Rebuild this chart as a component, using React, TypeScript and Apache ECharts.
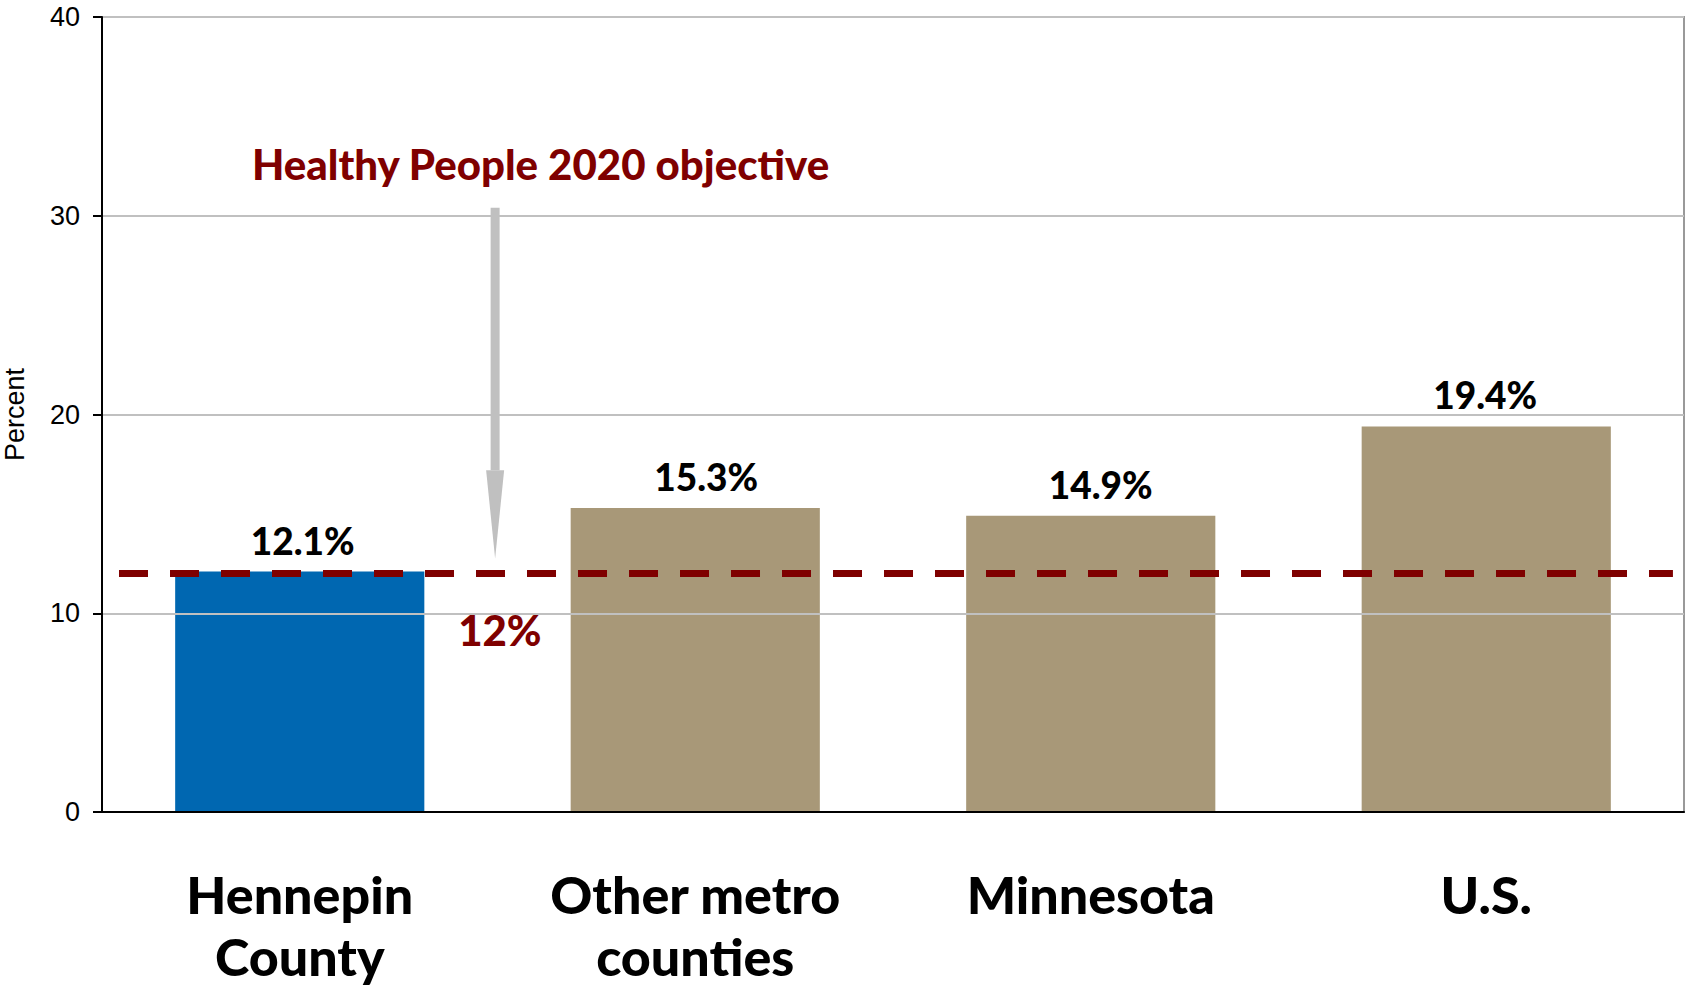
import React, { useEffect, useRef } from "react";
import * as echarts from "echarts";

// ---- data ----
const categories = ["Hennepin\nCounty", "Other metro\ncounties", "Minnesota", "U.S."];
const values = [12.1, 15.3, 14.9, 19.4];
const valueLabels = ["12.1%", "15.3%", "14.9%", "19.4%"];
const yTicks = [0, 10, 20, 30, 40];
const objectiveValue = 12;
const objectiveLabel = "12%";
const objectiveTitle = "Healthy People 2020 objective";
// objective line extent in category-band units (0..4)
const objectiveSpan = [0.043, 3.972];
// arrow (band units / percent)
const arrowX = 0.994;
const arrowTop = 30.4;
const arrowHeadBase = 17.2;
const arrowTip = 12.75;
// annotation anchors (band units / percent)
const titleAnchor = [0.379, 32.6];
const objLabelAnchor = [1.006, 9.16];

// ---- styles ----
const barColors = ["#0067b1", "#a89878", "#a89878", "#a89878"];
const labelOffsets = [3, 11, 10, -1];
const darkRed = "#7f0000";
const BOLD = "Lato";

export default function App() {
  const ref = useRef<HTMLDivElement>(null);
  useEffect(() => {
    if (!ref.current) return;
    const chart = echarts.init(ref.current, undefined, { renderer: "svg" });
    const option: any = {
      animation: false,
      backgroundColor: "#ffffff",
      grid: {
        left: 102,
        right: 6,
        top: 17,
        bottom: 176,
        show: true,
        borderColor: "#999999",
        borderWidth: 2,
        containLabel: false,
        outerBoundsMode: "none",
      },
      xAxis: [
        {
          type: "category",
          data: categories,
          axisLine: { show: true, lineStyle: { color: "#000", width: 2 } },
          axisTick: { show: false },
          axisLabel: {
            color: "#000",
            fontFamily: BOLD,
            fontWeight: 900,
            fontSize: 52,
            lineHeight: 62,
            margin: 51,
            interval: 0,
          },
          z: 5,
        },
        {
          type: "value",
          min: 0,
          max: 4,
          show: false,
        },
      ],
      yAxis: {
        type: "value",
        min: yTicks[0],
        max: yTicks[yTicks.length - 1],
        interval: 10,
        name: "Percent",
        nameLocation: "middle",
        nameRotate: 90,
        nameGap: 74,
        nameTextStyle: { fontFamily: "Liberation Sans", fontSize: 27, color: "#000" },
        axisLine: { show: true, lineStyle: { color: "#000", width: 2 } },
        axisTick: { show: true, length: 9, lineStyle: { color: "#000", width: 2 } },
        axisLabel: {
          fontFamily: "Liberation Sans",
          fontSize: 27,
          color: "#000",
          margin: 22,
        },
        splitLine: { show: true, lineStyle: { color: "#c0c0c0", width: 2 } },
        z: 5,
      },
      series: [
        {
          type: "bar",
          barWidth: "63%",
          data: values.map((v, i) => ({
            value: v,
            itemStyle: { color: barColors[i] },
            label: { offset: [labelOffsets[i], 0] },
          })),
          label: {
            show: true,
            position: "top",
            distance: 13,
            formatter: (p: any) => valueLabels[p.dataIndex],
            fontFamily: BOLD,
            fontWeight: 900,
            fontSize: 37,
            color: "#000",
          },
          z: 2,
        },
        {
          type: "line",
          xAxisIndex: 1,
          yAxisIndex: 0,
          data: [
            [objectiveSpan[0], objectiveValue],
            [objectiveSpan[1], objectiveValue],
          ],
          symbol: "none",
          lineStyle: { color: darkRed, width: 7, type: [29, 22] },
          z: 6,
          silent: true,
        },
      ],
    };
    chart.setOption(option);

    const px = (x: number, y: number) =>
      chart.convertToPixel({ xAxisIndex: 1, yAxisIndex: 0 }, [x, y]) as number[];
    const top = px(arrowX, arrowTop);
    const base = px(arrowX, arrowHeadBase);
    const tip = px(arrowX, arrowTip);
    const title = px(titleAnchor[0], titleAnchor[1]);
    const objLab = px(objLabelAnchor[0], objLabelAnchor[1]);

    chart.setOption({
      graphic: [
        {
          type: "rect",
          shape: { x: top[0] - 4.5, y: top[1], width: 9, height: base[1] - top[1] },
          style: { fill: "#c0c0c0" },
          z: 10,
        },
        {
          type: "polygon",
          shape: {
            points: [
              [base[0] - 9, base[1]],
              [base[0] + 9, base[1]],
              [tip[0], tip[1]],
            ],
          },
          style: { fill: "#c0c0c0" },
          z: 10,
        },
        {
          type: "text",
          x: title[0],
          y: title[1],
          style: {
            text: objectiveTitle,
            fontFamily: BOLD,
            fontWeight: 900,
            fontSize: 42,
            fill: darkRed,
            align: "left",
            verticalAlign: "middle",
          },
          z: 10,
        },
        {
          type: "text",
          x: objLab[0],
          y: objLab[1],
          style: {
            text: objectiveLabel,
            fontFamily: BOLD,
            fontWeight: 900,
            fontSize: 42,
            fill: darkRed,
            align: "center",
            verticalAlign: "middle",
          },
          z: 10,
        },
      ],
    });

    return () => chart.dispose();
  }, []);
  return (
    <div
      ref={ref}
      style={{ position: "fixed", left: 0, top: 0, width: 1690, height: 988 }}
    />
  );
}
